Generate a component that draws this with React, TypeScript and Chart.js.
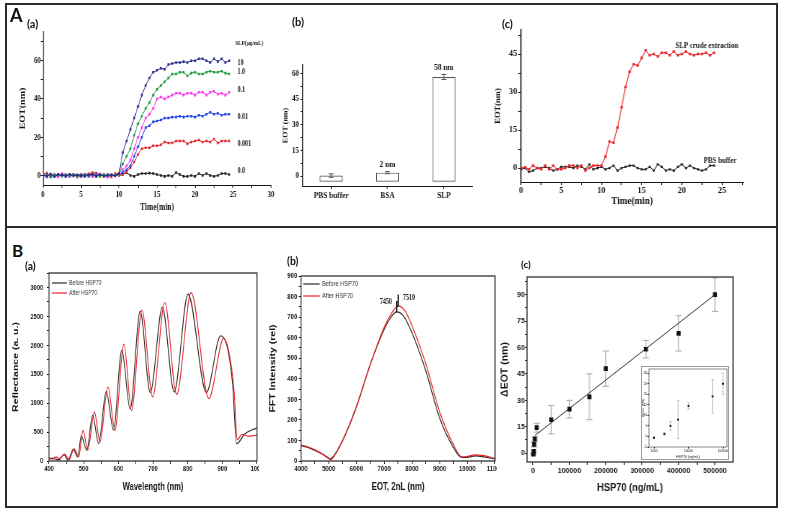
import React, { useEffect, useRef } from 'react';
import { Chart, registerables } from 'chart.js';

Chart.register(...registerables);

// ---------------- DATA ----------------
// Panel A(a): EOT vs time for SLP concentrations
const TIME_A = [0,0.5,1,1.5,2,2.5,3,3.5,4,4.5,5,5.5,6,6.5,7,7.5,8,8.5,9,9.5,10,10.5,11,11.5,12,12.5,13,13.5,14,14.5,15,15.5,16,16.5,17,17.5,18,18.5,19,19.5,20,20.5,21,21.5,22,22.5,23,23.5,24,24.5];
const SLP_10 = [0.3,-0.5,0.8,-0.6,0.5,0.2,-0.4,0.6,-0.3,0.4,0.1,-0.5,0.3,0.6,-0.2,0.5,-0.4,0.3,0.2,-0.3,1.0,12,18,24,30,36,42,47,51,54,55,56,55.5,58,58.5,59,59,59.5,59,60,60,61,61,60,59,61,59.5,61,59,60];
const SLP_1 = [-0.5,0.4,-0.3,0.2,0.6,-0.4,0.3,-0.2,0.5,-0.6,0.2,0.4,-0.3,0.8,0.1,-0.5,0.6,-0.2,0.3,0.2,0.5,6,10,14,21,27,31,35,38,42,45,47,49,51,53,53,54,54,52,53.5,54,53,53,54,54.5,54,54,54.5,53.5,53];
const SLP_01 = [0.2,-0.8,0.5,0.3,-0.6,0.9,0.4,-0.5,0.2,-0.9,0.6,-0.3,0.5,-0.7,0.3,0.8,-0.4,-1.0,0.4,0.5,0,3,5,8,14,20,25,30,32,35,40,41,40,41,42,43,43,42,43,43,42,43.5,43.5,42,43.5,44,42.5,43,42,43.5];
const SLP_001 = [-0.3,0.6,-0.8,0.4,-0.5,0.2,0.5,-0.6,0.3,0.1,-0.4,0.6,-0.5,0.3,0.7,-0.3,0.2,-0.6,0.4,-0.2,0.5,1.5,3,5,10,15,20,25,26,28,28.5,29,30,30,30.5,30.5,31,30.5,31,31,30.5,31.5,31,32,33,32,32.5,31.5,32,32];
const SLP_0001 = [0.6,1.2,-0.4,0.3,-0.5,0.8,0.2,-0.3,0.6,0.1,-0.6,0.4,0.9,1.5,1.2,0.3,-0.5,0.4,-0.8,1.0,1.0,0.5,2,4,7,11,14,14.5,14.5,15.5,15.5,16,17.5,17,17,18,18,18,16.5,17.5,18,18.5,17.5,18,17.5,19,17,18,18,18];
const SLP_0 = [0.2,-0.3,0.5,-0.6,0.3,0.1,-0.4,0.5,0.2,-0.3,0.4,-0.2,0.6,0.2,-0.5,0.3,0.1,-0.4,0.2,0.3,0,0.5,1.5,0,-0.5,0.5,1,1,1.2,1,0.5,0,-0.5,0,-0.5,1.5,0.5,-0.5,-0.5,0,-0.5,1,0,1,0,-0.5,0,1,1,0.5];
const SLP_SERIES = [SLP_10, SLP_1, SLP_01, SLP_001, SLP_0001, SLP_0];
const SLP_LABELS = ['10', '1.0', '0.1', '0.01', '0.001', '0.0'];
const SLP_COLORS = ['#2b2b8c', '#1d9a3d', '#ff33f0', '#2040e8', '#e3262b', '#222222'];

// Panel A(b): bar chart
const BAR_CATS = ['PBS buffer', 'BSA', 'SLP'];
const BAR_VALUES = [0.3, 2, 58];
const BAR_ERRORS = [1.0, 0.6, 1.5];
const BAR_NOTES = ['', '2 nm', '58 nm'];
const BAR_BASE = -3.3;

// Panel A(c): crude extraction vs PBS buffer
const TIME_C = [0,0.5,1,1.5,2,2.5,3,3.5,4,4.5,5,5.5,6,6.5,7,7.5,8,8.5,9,9.5,10,10.5,11,11.5,12,12.5,13,13.5,14,14.5,15,15.5,16,16.5,17,17.5,18,18.5,19,19.5,20,20.5,21,21.5,22,22.5,23,23.5,24];
const CRUDE_SLP = [0,0.3,-0.5,1,0,-0.5,1,-0.5,1,-0.5,-0.5,0,1,1,0,1,-1,0,1,1,1,4.5,10.5,10,16,24,32,38,41,40.5,43.5,46.5,44.5,45,44,45.5,45.5,44.5,46,44.5,45,46,45,44.5,45,45,45.5,44.5,45.5];
const PBS_BUFFER = [-0.5,0,-1.5,-1,0,0,0.5,0,-1,-0.5,0.5,0.5,0.5,0,1,0.5,-0.5,1.5,-0.5,0,0.5,-0.5,0,1,-1,0,0.5,1,1,0,-0.5,-0.5,0.5,-1,1.5,0.5,-1,-0.5,-1,0.5,1.5,0,1,0,-0.5,-1,-0.5,1,1];

// Panel B(a): reflectance spectra
const WL_BEFORE = [400,410,420,428,443,455,470,483,493,509,526,543,565,586,610,634,663,692,727,761,801,854,895,915,930,941,966,995,1000];
const REFL_BEFORE = [30,50,30,20,110,15,200,70,433,185,790,300,1205,540,1915,895,2590,1183,2655,1195,2885,1183,2165,1950,1300,300,475,560,570];
const WL_AFTER = [400,410,420,430,445,458,472,486,498,512,531,547,570,590,616,638,668,699,734,768,810,861,904,920,934,943,957,976,995,1000];
const REFL_AFTER = [60,30,70,40,120,20,210,80,530,190,850,330,1280,530,2020,877,2610,1108,2740,1150,2910,1080,2120,1850,1200,370,460,430,445,450];

// Panel B(b): FFT spectra
const EOT_BEFORE = [4000,4250,4500,4750,5000,5050,5200,5500,6000,6500,7000,7250,7450,7700,8000,8500,9000,9500,9800,10000,10300,10600,11000];
const FFT_BEFORE = [75,66,52,35,14,10,28,100,265,470,640,700,725,705,625,440,210,65,17,18,25,20,10];
const EOT_AFTER = [4000,4250,4500,4750,5000,5080,5200,5500,6000,6500,7000,7250,7510,7750,8000,8500,9000,9500,9800,10000,10300,10600,11000];
const FFT_AFTER = [78,68,54,36,12,6,25,98,262,470,650,715,755,730,660,475,240,80,20,22,30,26,12];
const PEAK_BEFORE = 7450;
const PEAK_AFTER = 7510;

// Panel B(c): calibration
const HSP70_CONC = [1000,2000,3000,5000,10000,50000,100000,155000,200000,310000,400000,500000];
const DELTA_EOT = [-0.5,1,5,8,14.5,19,25,32,48,59,68,90];
const DELTA_ERR = [0.5,0.8,1.5,1.5,2.5,8,5,13,10,5,10,9.5];
const FIT_X = [5000, 500000];
const FIT_Y = [10, 90];
const INSET_CONC = [1000,2000,3000,5000,10000,50000,100000];
const INSET_EOT = [-0.6,1.2,5,8,14.5,19,25];
const INSET_ERR = [0.3,0.6,2,9,1.5,8,5];

// ---------------- HELPERS ----------------
const SERIF = "'Liberation Serif', 'DejaVu Serif', serif";
const SANS = "'Liberation Sans', Arial, sans-serif";
const INK = '#151515';

type Geo = { S: number; cl: number; ct: number; cr: number; cb: number; L: number; T: number; R: number; B: number; clip?: number };

function dims(g: Geo) {
  const width = Math.round((g.cr - g.cl) / g.S);
  const height = g.cb - g.ct;
  const lw = (g.L - g.cl) / g.S;
  const rp = width - lw - (g.R - g.L) / g.S;
  return { width, height, lw, rp, tp: g.T - g.ct, bh: g.cb - g.B };
}

const fnt = (family: string, size: number, weight = 'bold') => ({ family, size, weight, lineHeight: 1.2 });

function axis(o: any) {
  const major: number[] = o.major || [];
  const minor: number[] = o.minor || [];
  const all = [...major, ...minor].sort((a, b) => a - b);
  const labels: string[] | undefined = o.labels;
  return {
    type: o.type || 'linear',
    min: o.min,
    max: o.max,
    afterBuildTicks: (s: any) => { s.ticks = all.map((v) => ({ value: v })); },
    border: { display: o.border !== false, color: INK, width: o.borderWidth || 1 },
    grid: { display: true, drawOnChartArea: false, drawTicks: true, tickLength: o.tl ?? 3, tickColor: INK, tickWidth: 1 },
    ticks: {
      autoSkip: false, maxRotation: 0, minRotation: 0, padding: o.pad ?? 1, color: INK, font: o.font,
      callback: (v: number) => { const i = major.indexOf(v); return i < 0 ? '' : (labels ? labels[i] : String(v)); },
    },
    title: o.title
      ? { display: true, text: o.title, color: INK, font: o.titleFont, padding: o.titlePad || { top: 0, bottom: 0 } }
      : { display: false },
  };
}

function common(d: any, x: any, y: any) {
  return {
    responsive: false,
    animation: false,
    devicePixelRatio: 1,
    events: [],
    layout: { padding: { left: 0, top: d.tp, right: d.rp, bottom: 0 }, autoPadding: false },
    plugins: { legend: { display: false }, tooltip: { enabled: false } },
    scales: {
      x: { ...x, afterFit: (s: any) => { s.height = d.bh; } },
      y: { ...y, afterFit: (s: any) => { s.width = d.lw; } },
    },
  };
}

function annotate(texts: any[], lines: any[] = []) {
  return {
    id: 'annotate',
    afterDatasetsDraw(chart: any) {
      const { ctx } = chart;
      const xs = chart.scales.x;
      const ys = chart.scales.y;
      ctx.save();
      for (const l of lines) {
        ctx.strokeStyle = l.color || INK;
        ctx.lineWidth = l.width || 1;
        ctx.beginPath();
        ctx.moveTo(xs.getPixelForValue(l.x0), ys.getPixelForValue(l.y0));
        ctx.lineTo(xs.getPixelForValue(l.x1), ys.getPixelForValue(l.y1));
        ctx.stroke();
      }
      for (const t of texts) {
        ctx.font = t.font;
        ctx.fillStyle = t.color || INK;
        ctx.textAlign = t.align || 'left';
        ctx.textBaseline = 'middle';
        ctx.fillText(t.text, xs.getPixelForValue(t.x), ys.getPixelForValue(t.y));
      }
      ctx.restore();
    },
  };
}

function errorBars(sets: any[], before = false) {
  const draw = (chart: any) => {
    const { ctx } = chart;
    const ys = chart.scales.y;
    ctx.save();
    for (const s of sets) {
      const meta = chart.getDatasetMeta(s.index);
      const data = chart.data.datasets[s.index].data;
      ctx.strokeStyle = s.color;
      ctx.lineWidth = s.width || 1;
      meta.data.forEach((el: any, i: number) => {
        const e = s.errors[i];
        if (!e) return;
        const raw = data[i];
        const v = typeof raw === 'number' ? raw : raw.y;
        const top = ys.getPixelForValue(v + e);
        const bot = ys.getPixelForValue(v - e);
        ctx.beginPath();
        ctx.moveTo(el.x, top); ctx.lineTo(el.x, bot);
        ctx.moveTo(el.x - s.cap, top); ctx.lineTo(el.x + s.cap, top);
        ctx.moveTo(el.x - s.cap, bot); ctx.lineTo(el.x + s.cap, bot);
        ctx.stroke();
      });
    }
    ctx.restore();
  };
  return before ? { id: 'errorBars', beforeDatasetsDraw: draw } : { id: 'errorBars', afterDatasetsDraw: draw };
}

function frame(color: string, width: number, outer = false) {
  return {
    id: 'frame',
    afterDatasetsDraw(chart: any) {
      const { ctx, chartArea: a } = chart;
      ctx.save();
      ctx.strokeStyle = color;
      ctx.lineWidth = width;
      ctx.strokeRect(a.left, a.top, a.right - a.left, a.bottom - a.top);
      if (outer) {
        ctx.strokeStyle = '#9a9a9a';
        ctx.lineWidth = 1;
        ctx.strokeRect(0.5, 0.5, chart.width - 1, chart.height - 1);
      }
      ctx.restore();
    },
  };
}

function miniLegend(order: number[], x0: number, x1: number, tx: number, rows: number[], font: string) {
  return {
    id: 'miniLegend',
    afterDatasetsDraw(chart: any) {
      const { ctx, chartArea: a } = chart;
      ctx.save();
      ctx.font = font;
      ctx.textBaseline = 'middle';
      ctx.textAlign = 'left';
      order.forEach((di, k) => {
        const ds = chart.data.datasets[di];
        const y = a.top + rows[k];
        ctx.strokeStyle = ds.borderColor;
        ctx.lineWidth = 1.2;
        ctx.beginPath();
        ctx.moveTo(a.left + x0, y);
        ctx.lineTo(a.left + x1, y);
        ctx.stroke();
        ctx.fillStyle = '#333';
        ctx.fillText(ds.label, a.left + tx, y);
      });
      ctx.restore();
    },
  };
}

const xy = (xs: number[], ys: number[]) => ys.map((y, i) => ({ x: xs[i], y }));

// ---------------- GEOMETRY (page px) ----------------
const GEO_AA: Geo = { S: 0.75, cl: 12, ct: 20, cr: 285, cb: 213, L: 43, T: 32, R: 271, B: 185 };
const GEO_AB: Geo = { S: 0.82, cl: 276, ct: 40, cr: 482, cb: 201, L: 303, T: 65, R: 472, B: 186 };
const GEO_AC: Geo = { S: 0.92, cl: 490, ct: 18, cr: 762, cb: 207, L: 521, T: 30, R: 743, B: 182 };
const GEO_BA: Geo = { S: 0.72, cl: 8, ct: 263, cr: 269, cb: 493, L: 49, T: 273, R: 257, B: 461, clip: 251 };
const GEO_BB: Geo = { S: 0.75, cl: 264, ct: 266, cr: 511, cb: 493, L: 301, T: 276, R: 495, B: 461, clip: 233 };
const GEO_BC: Geo = { S: 0.88, cl: 497, ct: 268, cr: 745, cb: 494, L: 527, T: 277, R: 733, B: 462 };
const GEO_IN: Geo = { S: 1, cl: 641, ct: 366, cr: 729, cb: 460, L: 649, T: 369, R: 727, B: 447 };

// ---------------- CHART BUILDERS ----------------
function buildAa(d: any) {
  const tickFont = fnt(SERIF, 9);
  const lf = `bold 8px ${SERIF}`;
  return {
    type: 'scatter',
    data: {
      datasets: SLP_SERIES.map((vals, k) => ({
        label: SLP_LABELS[k],
        data: xy(TIME_A, vals),
        showLine: true,
        borderColor: SLP_COLORS[k],
        backgroundColor: SLP_COLORS[k],
        borderWidth: 1,
        pointStyle: 'rect',
        pointRadius: 1.8,
        pointBorderWidth: 0,
        tension: 0,
      })),
    },
    options: common(
      d,
      axis({ min: 0, max: 30, major: [0, 5, 10, 15, 20, 25, 30], minor: [2.5, 7.5, 12.5, 17.5, 22.5, 27.5], font: tickFont, tl: 3, pad: 1,
        title: 'Time(min)', titleFont: fnt(SERIF, 10) }),
      axis({ min: -5, max: 75, major: [0, 20, 40, 60], minor: [10, 30, 50, 70], font: tickFont, tl: 3, pad: 0, borderWidth: 1.3,
        title: 'EOT(nm)', titleFont: fnt(SERIF, 10), titlePad: { top: 8.5, bottom: 0 } }),
    ),
    plugins: [
      annotate([
        { x: 25.3, y: 69, text: 'SLP(μg/mL)', font: `bold 7px ${SERIF}` },
        { x: 25.6, y: 58.9, text: SLP_LABELS[0], font: lf },
        { x: 25.6, y: 54, text: SLP_LABELS[1], font: lf },
        { x: 25.6, y: 44.7, text: SLP_LABELS[2], font: lf },
        { x: 25.6, y: 30.6, text: SLP_LABELS[3], font: lf },
        { x: 25.6, y: 16.6, text: SLP_LABELS[4], font: lf },
        { x: 25.6, y: 2.6, text: SLP_LABELS[5], font: lf },
      ]),
    ],
  };
}

function buildAb(d: any) {
  const x = {
    type: 'category',
    offset: true,
    border: { display: true, color: INK, width: 1 },
    grid: { display: true, drawOnChartArea: false, drawTicks: true, tickLength: 3, tickColor: INK, offset: false },
    ticks: { padding: 1, color: INK, font: fnt(SERIF, 9), maxRotation: 0, autoSkip: false },
  };
  return {
    type: 'bar',
    data: {
      labels: BAR_CATS,
      datasets: [{
        data: BAR_VALUES,
        base: BAR_BASE,
        backgroundColor: '#ffffff',
        borderColor: '#555555',
        borderWidth: 1.2,
        borderSkipped: false,
        categoryPercentage: 1,
        barPercentage: 0.41,
      }],
    },
    options: common(
      d,
      x,
      axis({ min: -5.8, max: 65, major: [0, 15, 30, 45, 60], minor: [7.5, 22.5, 37.5, 52.5], font: fnt(SERIF, 8.5), tl: 3, pad: 2, borderWidth: 1.2,
        title: 'EOT (nm)', titleFont: fnt(SERIF, 8), titlePad: { top: 6.8, bottom: 0 } }),
    ),
    plugins: [
      errorBars([{ index: 0, errors: BAR_ERRORS, color: '#555', cap: 3, width: 1 }]),
      annotate(BAR_NOTES.map((t, i) => ({ x: i, y: BAR_VALUES[i] + BAR_ERRORS[i] + 4, text: t, align: 'center', font: `bold 9px ${SERIF}` }))),
    ],
  };
}

function buildAc(d: any) {
  const tickFont = fnt(SERIF, 9);
  return {
    type: 'scatter',
    data: {
      datasets: [
        { label: 'SLP crude extraction', data: xy(TIME_C, CRUDE_SLP), showLine: true, borderColor: '#e8262a', backgroundColor: '#e8262a',
          borderWidth: 1, pointStyle: 'rect', pointRadius: 1.8, pointBorderWidth: 0, tension: 0 },
        { label: 'PBS buffer', data: xy(TIME_C, PBS_BUFFER), showLine: true, borderColor: '#222', backgroundColor: '#222',
          borderWidth: 1, pointStyle: 'rect', pointRadius: 1.6, pointBorderWidth: 0, tension: 0 },
      ],
    },
    options: common(
      d,
      axis({ min: 0, max: 27.6, major: [0, 5, 10, 15, 20, 25], minor: [2.5, 7.5, 12.5, 17.5, 22.5, 27.5], font: tickFont, tl: 3, pad: 0,
        title: 'Time(min)', titleFont: fnt(SERIF, 10) }),
      axis({ min: -5.5, max: 54.5, major: [0, 15, 30, 45], minor: [7.5, 22.5, 37.5, 52.5], font: tickFont, tl: 3, pad: 1.3, borderWidth: 1.2,
        title: 'EOT(nm)', titleFont: fnt(SERIF, 8.5), titlePad: { top: 3.5, bottom: 0 } }),
    ),
    plugins: [
      annotate([
        { x: 23.1, y: 48.2, text: 'SLP crude extraction', align: 'center', font: `bold 7.5px ${SERIF}` },
        { x: 24.75, y: 2.9, text: 'PBS buffer', align: 'center', font: `bold 7.5px ${SERIF}` },
      ]),
    ],
  };
}

function buildBa(d: any) {
  const tickFont = fnt(SANS, 8);
  return {
    type: 'scatter',
    data: {
      datasets: [
        { label: 'Before HSP70', order: 1, data: xy(WL_BEFORE, REFL_BEFORE), showLine: true, borderColor: '#2a2a2a', borderWidth: 1.2,
          pointRadius: 0, cubicInterpolationMode: 'monotone' },
        { label: 'After HSP70', order: 0, data: xy(WL_AFTER, REFL_AFTER), showLine: true, borderColor: '#e8232a', borderWidth: 1.2,
          pointRadius: 0, cubicInterpolationMode: 'monotone' },
      ],
    },
    options: common(
      d,
      axis({ min: 400, max: 1000, major: [400, 500, 600, 700, 800, 900, 1000], minor: [450, 550, 650, 750, 850, 950], font: tickFont, tl: 3, pad: 0,
        border: false, title: 'Wavelength (nm)', titleFont: fnt(SANS, 10.5) }),
      axis({ min: 0, max: 3250, major: [0, 500, 1000, 1500, 2000, 2500, 3000], minor: [250, 750, 1250, 1750, 2250, 2750, 3250], font: tickFont, tl: 3, pad: 5,
        border: false, title: 'Reflectance (a. u.)', titleFont: fnt(SANS, 10.5), titlePad: { top: 4.8, bottom: 0 } }),
    ),
    plugins: [frame('#333', 1.3), miniLegend([0, 1], 4, 25, 28, [10, 20], `7px ${SANS}`)],
  };
}

function buildBb(d: any) {
  const tickFont = fnt(SANS, 8);
  return {
    type: 'scatter',
    data: {
      datasets: [
        { label: 'Before HSP70', order: 1, data: xy(EOT_BEFORE, FFT_BEFORE), showLine: true, borderColor: '#2a2a2a', borderWidth: 1.2,
          pointRadius: 0, cubicInterpolationMode: 'monotone' },
        { label: 'After HSP70', order: 0, data: xy(EOT_AFTER, FFT_AFTER), showLine: true, borderColor: '#e8232a', borderWidth: 1.2,
          pointRadius: 0, cubicInterpolationMode: 'monotone' },
      ],
    },
    options: common(
      d,
      axis({ min: 4000, max: 11000, major: [4000, 5000, 6000, 7000, 8000, 9000, 10000, 11000], minor: [4500, 5500, 6500, 7500, 8500, 9500, 10500],
        font: tickFont, tl: 3, pad: 0, border: false, title: 'EOT, 2nL (nm)', titleFont: fnt(SANS, 10.5) }),
      axis({ min: 0, max: 900, major: [0, 100, 200, 300, 400, 500, 600, 700, 800, 900], minor: [50, 150, 250, 350, 450, 550, 650, 750, 850],
        font: tickFont, tl: 3, pad: 2, border: false, title: 'FFT Intensity (rel)', titleFont: fnt(SANS, 10.5), titlePad: { top: 5.7, bottom: 0 } }),
    ),
    plugins: [
      frame('#333', 1.3),
      miniLegend([0, 1], 3, 25, 28, [8, 20], `7.5px ${SANS}`),
      annotate(
        [
          { x: 7280, y: 773, text: String(PEAK_BEFORE), align: 'right', font: `bold 8px ${SERIF}` },
          { x: 7680, y: 793, text: String(PEAK_AFTER), align: 'left', font: `bold 8px ${SERIF}` },
        ],
        [
          { x0: PEAK_BEFORE, y0: 723, x1: PEAK_BEFORE, y1: 778, width: 1.6, color: '#111' },
          { x0: PEAK_AFTER, y0: 750, x1: PEAK_AFTER, y1: 810, width: 1.6, color: '#111' },
        ],
      ),
    ],
  };
}

function buildBc(d: any) {
  const tickFont = fnt(SANS, 8);
  return {
    type: 'scatter',
    data: {
      datasets: [
        { label: 'HSP70', order: 0, data: xy(HSP70_CONC, DELTA_EOT), backgroundColor: '#111', borderColor: '#111', pointStyle: 'rect',
          pointRadius: 3.3, pointBorderWidth: 0 },
        { label: 'fit', order: 1, data: xy(FIT_X, FIT_Y), showLine: true, borderColor: '#333', borderWidth: 1, pointRadius: 0 },
      ],
    },
    options: common(
      d,
      axis({ min: -16500, max: 549500, major: [0, 100000, 200000, 300000, 400000, 500000], minor: [50000, 150000, 250000, 350000, 450000],
        font: tickFont, tl: 3, pad: 1, border: false, title: 'HSP70 (ng/mL)', titleFont: fnt(SANS, 10.5) }),
      axis({ min: -5, max: 100, major: [0, 15, 30, 45, 60, 75, 90], minor: [7.5, 22.5, 37.5, 52.5, 67.5, 82.5, 97.5],
        font: tickFont, tl: 2, pad: 0.5, border: false, title: 'ΔEOT (nm)', titleFont: fnt(SANS, 10.5), titlePad: { top: 2.8, bottom: 0 } }),
    ),
    plugins: [frame('#333', 1.3), errorBars([{ index: 0, errors: DELTA_ERR, color: '#a8a8a8', cap: 3.5, width: 1 }], true)],
  };
}

function buildInset(d: any) {
  const tickFont = fnt(SANS, 3.2, 'normal');
  return {
    type: 'scatter',
    data: {
      datasets: [
        { label: 'inset', data: xy(INSET_CONC, INSET_EOT), backgroundColor: '#111', borderColor: '#111', pointStyle: 'rect',
          pointRadius: 1.3, pointBorderWidth: 0 },
      ],
    },
    options: common(
      d,
      axis({ type: 'logarithmic', min: 716, max: 130600, major: [1000, 10000, 100000], labels: ['1000', '10000', '100000'],
        font: tickFont, tl: 1.5, pad: 0.5, border: false, title: 'HSP70 (ng/mL)', titleFont: fnt(SANS, 3.5, 'normal'),
        titlePad: { top: 0, bottom: 1 } }),
      axis({ min: -5, max: 32, major: [-5, 0, 5, 10, 15, 20, 25, 30], font: tickFont, tl: 1.5, pad: 0.3, border: false,
        title: 'ΔEOT (nm)', titleFont: fnt(SANS, 3.5, 'normal'), titlePad: { top: 0, bottom: 0 } }),
    ),
    plugins: [frame('#555', 0.7, true), errorBars([{ index: 0, errors: INSET_ERR, color: '#aaa', cap: 1.5, width: 0.6 }], true)],
  };
}

// ---------------- COMPONENTS ----------------
function ChartCanvas({ geo, build }: { geo: Geo; build: (d: any) => any }) {
  const ref = useRef<HTMLCanvasElement>(null);
  const d = dims(geo);
  useEffect(() => {
    const chart = new Chart(ref.current as HTMLCanvasElement, build(d) as any);
    return () => chart.destroy();
  }, []);
  const canvas = (
    <canvas
      ref={ref}
      width={d.width}
      height={d.height}
      style={{
        position: 'absolute',
        left: geo.clip ? 0 : geo.cl,
        top: geo.clip ? 0 : geo.ct,
        width: d.width,
        height: d.height,
        transform: `scaleX(${geo.S})`,
        transformOrigin: '0 0',
      }}
    />
  );
  if (geo.clip) {
    return (
      <div style={{ position: 'absolute', left: geo.cl, top: geo.ct, width: geo.clip, height: d.height, overflow: 'hidden' }}>
        {canvas}
      </div>
    );
  }
  return canvas;
}

function Label({ text, left, top, size }: { text: string; left: number; top: number; size: number }) {
  return (
    <div
      style={{
        position: 'absolute', left, top, fontFamily: "Lato, 'Liberation Sans', sans-serif", fontWeight: 700,
        fontSize: size, lineHeight: 1, color: '#111', whiteSpace: 'nowrap',
      }}
    >
      {text}
    </div>
  );
}

export default function App() {
  useEffect(() => {
    document.body.style.margin = '0';
  }, []);
  return (
    <div style={{ position: 'absolute', left: 0, top: 0, width: 785, height: 514, background: '#fff', overflow: 'hidden' }}>
      <div style={{ position: 'absolute', left: 5, top: 3, width: 769, height: 501, border: '2px solid #2b2b2b' }} />
      <div style={{ position: 'absolute', left: 5, top: 226, width: 773, height: 2, background: '#2b2b2b' }} />

      <ChartCanvas geo={GEO_AA} build={buildAa} />
      <ChartCanvas geo={GEO_AB} build={buildAb} />
      <ChartCanvas geo={GEO_AC} build={buildAc} />
      <ChartCanvas geo={GEO_BA} build={buildBa} />
      <ChartCanvas geo={GEO_BB} build={buildBb} />
      <ChartCanvas geo={GEO_BC} build={buildBc} />
      <ChartCanvas geo={GEO_IN} build={buildInset} />

      <Label text="A" left={10} top={6} size={18} />
      <Label text="(a)" left={27} top={18} size={11} />
      <Label text="(b)" left={292} top={16} size={11} />
      <Label text="(c)" left={502} top={18} size={11} />
      <Label text="B" left={12} top={242} size={17} />
      <Label text="(a)" left={25} top={261} size={10.5} />
      <Label text="(b)" left={287} top={256} size={10.5} />
      <Label text="(c)" left={521} top={259} size={10} />
    </div>
  );
}
